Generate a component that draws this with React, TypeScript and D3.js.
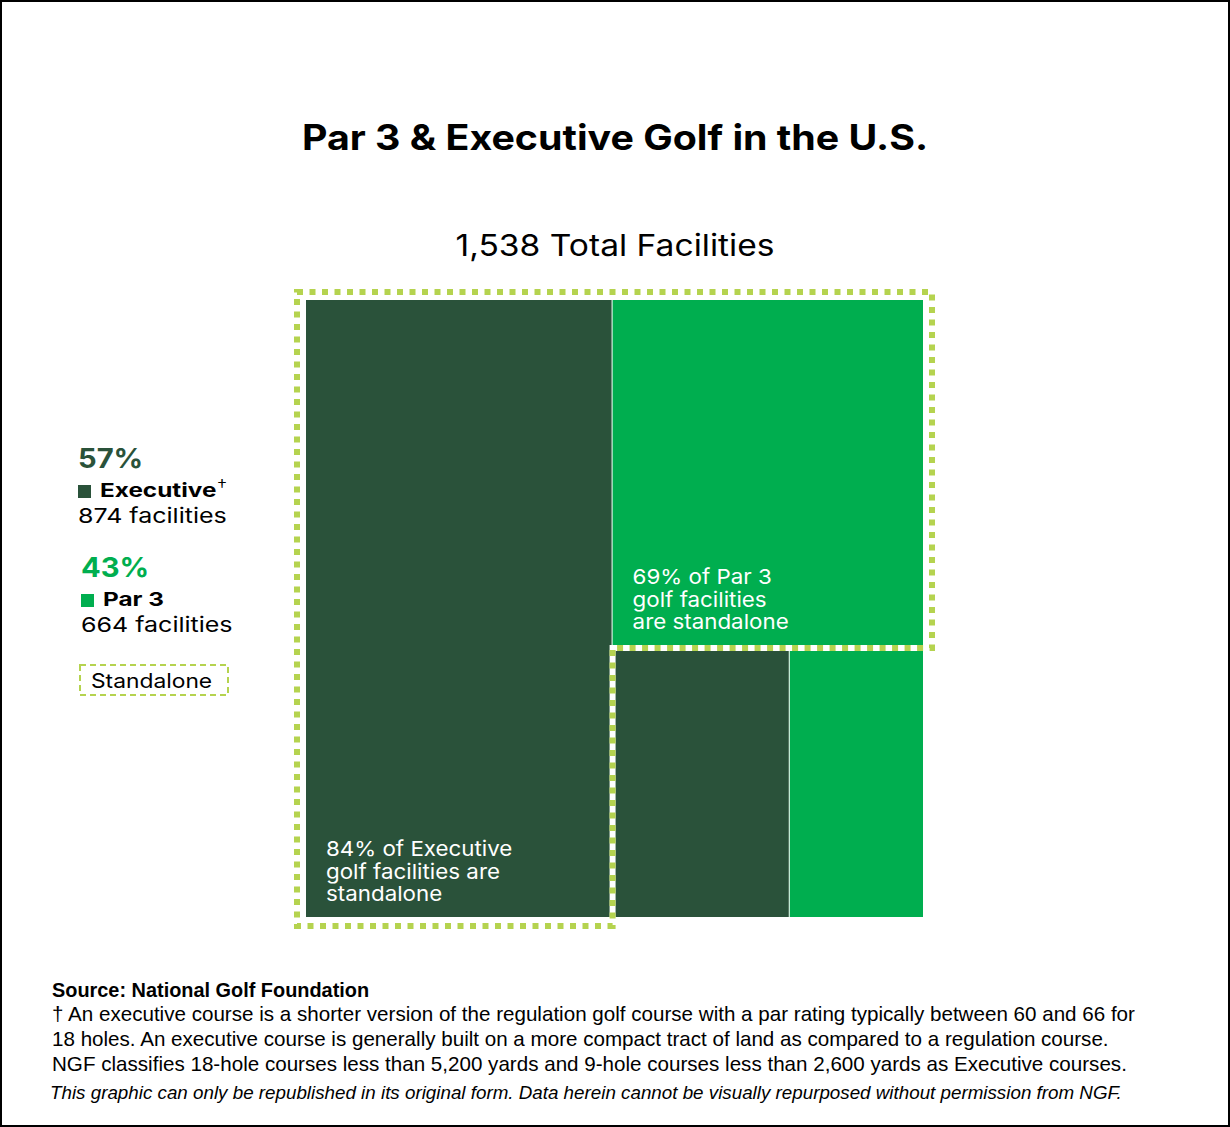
import * as d3 from "d3";
import type { ReactNode } from "react";

const W = 1230;
const H = 1127;

// what the legend says
const groups = ["Executive", "Par 3"];
const groupShares = [57, 43];
const groupFacilities = [874, 664];
const totalFacilities = 1538;

// treemap cells, areas as drawn in the graphic
const cellNames = ["Executive standalone", "Par 3 standalone", "Executive other", "Par 3 other"];
const cellValues = [763, 434, 194, 147];
const cellGroup = [0, 1, 0, 1];
const cellLabels: string[][] = [
  ["84% of Executive", "golf facilities are", "standalone"],
  ["69% of Par 3", "golf facilities", "are standalone"],
  [],
  [],
];

const footnote = [
  "† An executive course is a shorter version of the regulation golf course with a par rating typically between 60 and 66 for",
  "18 holes. An executive course is generally built on a more compact tract of land as compared to a regulation course.",
  "NGF classifies 18-hole courses less than 5,200 yards and 9-hole courses less than 2,600 yards as Executive courses.",
];

const DARK = "#2a523a";
const GREEN = "#00ae4f";
const LIME = "#b5d34f";
const groupColors = [DARK, GREEN];

const FONT = "Inter, Roboto, sans-serif";
const FOOT = "'Liberation Sans', Arial, sans-serif";

type Node = { name: string; idx?: number; value?: number; children?: Node[] };

// the graphic's grotesque is wider than Inter, so stretch it a bit
const T = ({
  x,
  y,
  sx = 1.1,
  size,
  weight = 400,
  fill = "#000",
  anchor = "start",
  children,
}: {
  x: number;
  y: number;
  sx?: number;
  size: number;
  weight?: number;
  fill?: string;
  anchor?: "start" | "middle";
  children: ReactNode;
}) => (
  <text
    transform={`translate(${x},${y}) scale(${sx},1)`}
    textAnchor={anchor}
    fontFamily={FONT}
    fontSize={size}
    fontWeight={weight}
    fill={fill}
  >
    {children}
  </text>
);

export default function App() {
  const leaf = (i: number): Node => ({ name: cellNames[i], idx: i, value: cellValues[i] });
  const tree: Node = {
    name: "root",
    children: [
      leaf(0),
      { name: "right", children: [leaf(1), { name: "bottom", children: [leaf(2), leaf(3)] }] },
    ],
  };

  const root = d3.hierarchy<Node>(tree).sum((d) => d.value ?? 0);
  d3.treemap<Node>().tile(d3.treemapSliceDice).size([617, 617]).paddingInner(1)(root);
  const leaves = root.leaves() as d3.HierarchyRectangularNode<Node>[];
  const byIdx = (i: number) => leaves.find((l) => l.data.idx === i)!;

  const ox = 306;
  const oy = 300;
  const L = byIdx(0);
  const R = byIdx(1);
  // standalone outline = union of the two standalone cells
  const outline = [
    `M${ox + L.x0 - 9},${oy + L.y0 - 8}`,
    `H${ox + R.x1 + 9}`,
    `V${oy + R.y1 + 3}`,
    `H${ox + L.x1 + 1}`,
    `V${oy + L.y1 + 9}`,
    `H${ox + L.x0 - 9}`,
    "Z",
  ].join(" ");

  return (
    <div style={{ position: "absolute", left: 0, top: 0 }}>
      <svg width={W} height={H} style={{ display: "block" }}>
        <rect x={1} y={1} width={W - 2} height={H - 2} fill="#fff" stroke="#000" strokeWidth={2} />

        <T x={615} y={150} sx={1.124} size={35} weight={700} anchor="middle">
          Par 3 &amp; Executive Golf in the U.S.
        </T>
        <T x={615} y={256} sx={1.12} size={30} anchor="middle">
          {d3.format(",")(totalFacilities)} Total Facilities
        </T>

        {/* cells */}
        <g transform={`translate(${ox},${oy})`}>
          {leaves.map((l) => (
            <rect
              key={l.data.name}
              x={l.x0}
              y={l.y0}
              width={l.x1 - l.x0}
              height={l.y1 - l.y0}
              fill={groupColors[cellGroup[l.data.idx!]]}
            />
          ))}
        </g>

        {/* standalone outline */}
        <path d={outline} fill="none" stroke="#fff" strokeWidth={6} />
        <path d={outline} fill="none" stroke={LIME} strokeWidth={6} strokeDasharray="6 6.5" />

        {/* cell labels */}
        <g transform={`translate(${ox},${oy})`}>
          {leaves.map((l) => {
            const lines = cellLabels[l.data.idx!];
            return lines.map((s, j) => (
              <T
                key={l.data.name + j}
                x={l.x0 + 20}
                y={l.y1 - 16 - (lines.length - 1 - j) * 22.5}
                sx={1.09}
                size={20.5}
                fill="#fff"
              >
                {s}
              </T>
            ));
          })}
        </g>

        {/* legend */}
        {groups.map((g, i) => {
          const x = i === 0 ? 78 : 81;
          const y = i === 0 ? 468 : 577;
          return (
            <g key={g}>
              <T x={x} y={y} sx={1.08} size={27} weight={700} fill={groupColors[i]}>
                {groupShares[i]}%
              </T>
              <rect x={x} y={y + 17} width={13} height={13} fill={groupColors[i]} />
              <T x={x + 22} y={y + 29} sx={1.28} size={19} weight={700}>
                {g}
                {i === 0 && (
                  <tspan fontSize={16} fontWeight={300} dx={0.5} dy={-6}>
                    †
                  </tspan>
                )}
              </T>
              <T x={x} y={y + 55} sx={1.22} size={20.5}>
                {groupFacilities[i]} facilities
              </T>
            </g>
          );
        })}
        <rect x={80} y={665} width={148} height={30} fill="none" stroke={LIME} strokeWidth={2} strokeDasharray="6 4" />
        <T x={91} y={688} sx={1.14} size={20}>
          Standalone
        </T>

        {/* footer */}
        <text x={52} y={997} fontFamily={FOOT} fontWeight={700} fontSize={19.9} fill="#000">
          Source: National Golf Foundation
        </text>
        {footnote.map((s, i) => (
          <text key={i} x={52} y={1021 + i * 25} fontFamily={FOOT} fontSize={20.6} fill="#000">
            {s}
          </text>
        ))}
        <text x={50} y={1099} fontFamily={FOOT} fontStyle="italic" fontSize={18.8} fill="#000">
          This graphic can only be republished in its original form. Data herein cannot be visually repurposed without permission from NGF.
        </text>
      </svg>
    </div>
  );
}
